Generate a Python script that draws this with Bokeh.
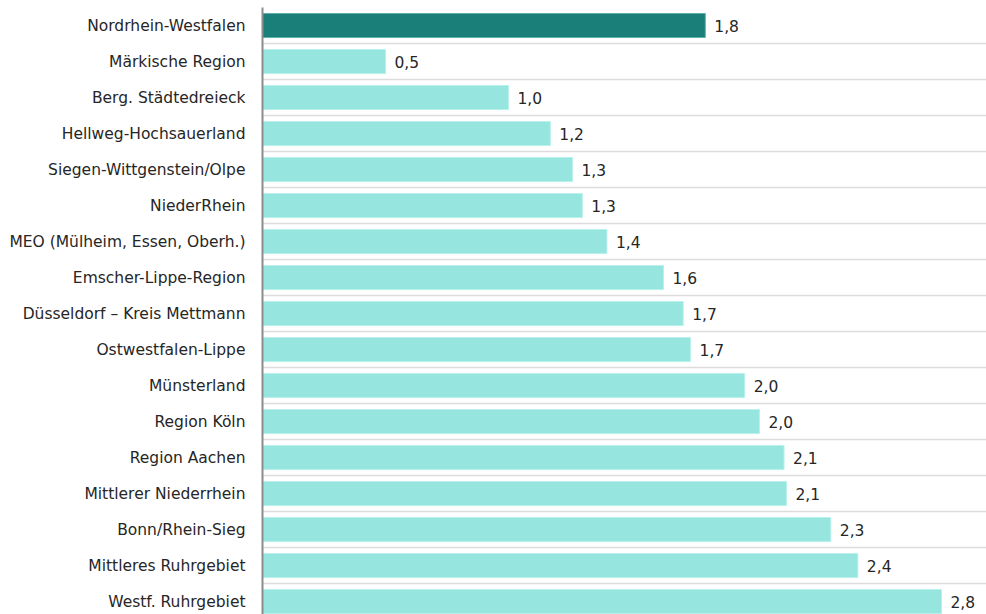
from bokeh.plotting import figure
from bokeh.models import ColumnDataSource, Range1d, FixedTicker
from bokeh.embed import file_html
from bokeh.resources import INLINE
from bokeh.core.properties import value

categories = [
    "Nordrhein-Westfalen", "Märkische Region", "Berg. Städtedreieck",
    "Hellweg-Hochsauerland", "Siegen-Wittgenstein/Olpe", "NiederRhein",
    "MEO (Mülheim, Essen, Oberh.)", "Emscher-Lippe-Region",
    "Düsseldorf – Kreis Mettmann", "Ostwestfalen-Lippe", "Münsterland",
    "Region Köln", "Region Aachen", "Mittlerer Niederrhein",
    "Bonn/Rhein-Sieg", "Mittleres Ruhrgebiet", "Westf. Ruhrgebiet",
]
values = [1.80, 0.50, 1.00, 1.17, 1.26, 1.30, 1.40, 1.63, 1.71, 1.74,
          1.96, 2.02, 2.12, 2.13, 2.31, 2.42, 2.76]
highlight = "Nordrhein-Westfalen"

DARK = "#1b7f79"
LIGHT = "#96e6df"
FONT = "DejaVu Sans"
TXT = "#262626"

ypos = list(range(len(categories)))
src = ColumnDataSource(dict(
    y=ypos,
    v=values,
    color=[DARK if c == highlight else LIGHT for c in categories],
    line=["#5fb3ac" if c == highlight else "#b8f0eb" for c in categories],
    label=[f"{v:.1f}".replace(".", ",") for v in values],
))

p = figure(width=986, height=614, output_backend="svg", toolbar_location=None,
           x_range=Range1d(0, 2.943), y_range=Range1d(16.36, -0.5),
           min_border_left=262, min_border_right=0, min_border_top=7,
           min_border_bottom=0)
p.outline_line_color = None
p.background_fill_color = "white"

p.hbar(y="y", right="v", left=0, height=0.667, source=src,
       fill_color="color", line_color="line", line_width=1)
p.text(x="v", y="y", text="label", source=src, x_offset=9,
       text_baseline="middle", text_align="left",
       text_font=value(FONT), text_font_size="15.5px", text_color=TXT)

p.xaxis.visible = False
p.xgrid.grid_line_color = None

p.yaxis.ticker = FixedTicker(ticks=ypos)
p.yaxis.major_label_overrides = {i: c for i, c in enumerate(categories)}
p.yaxis.major_tick_line_color = None
p.yaxis.minor_tick_line_color = None
p.yaxis.axis_line_color = "#8c8c8c"
p.yaxis.axis_line_width = 2
p.yaxis.major_label_standoff = 11
p.yaxis.major_label_text_font = FONT
p.yaxis.major_label_text_font_size = "15.5px"
p.yaxis.major_label_text_color = TXT

p.ygrid.ticker = FixedTicker(ticks=[i + 0.5 for i in ypos])
p.ygrid.grid_line_color = "#dcdcdc"
p.ygrid.grid_line_width = 1.5

open("out.html", "w").write(file_html(p, INLINE))
